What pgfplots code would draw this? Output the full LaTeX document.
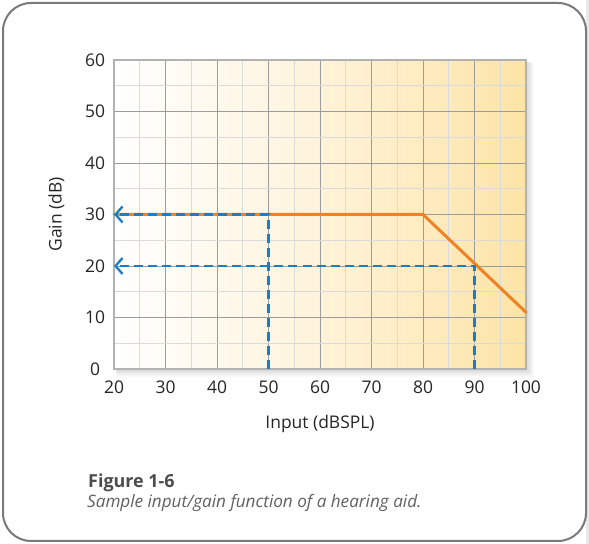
\documentclass[border=0pt]{standalone}
\usepackage{fontspec}
\setmainfont{Open Sans}
\usepackage{pgfplots}
\pgfplotsset{compat=1.18}
\usetikzlibrary{arrows.meta}
\definecolor{gaincol}{HTML}{F08226}
\definecolor{arrowblue}{HTML}{1C7DC6}
\definecolor{gridmaj}{HTML}{9C9C9C}
\definecolor{gridmin}{HTML}{DADADA}
\definecolor{warmmid}{HTML}{FEF3DA}
\definecolor{warmright}{HTML}{FDE4A6}
\definecolor{framecol}{HTML}{7A7A7A}
\definecolor{txt}{HTML}{262626}
\begin{document}
\begin{tikzpicture}[x=1bp,y=1bp]
\path (0,0) rectangle (589,544);
\fill[gray!18] (586,0) rectangle (589,544);
\fill[white, draw=framecol, line width=2bp, rounded corners=28bp] (3,3) rectangle (586,541);
% soft shadow behind plot area
\foreach \i in {1,...,8}{
  \fill[black, opacity=0.018] (114+\i*0.4,175-\i*1.0) rectangle (526+\i*1.0,484-\i*0.4);
}
\begin{axis}[
  at={(114bp,175bp)}, anchor=south west,
  scale only axis, width=412bp, height=309bp,
  xmin=20, xmax=100, ymin=0, ymax=60,
  xtick={20,30,...,100}, ytick={0,10,...,60},
  minor xtick={25,35,...,95}, minor ytick={5,15,...,55},
  grid=both,
  major grid style={draw=gridmaj, line width=0.8bp},
  minor grid style={draw=gridmin, line width=0.9bp},
  axis line style={draw=gray!60, line width=1.2bp},
  axis background/.style={left color=white, right color=warmright, middle color=warmmid},
  tick style={draw=none},
  /pgf/number format/assume math mode=true,
  tick label style={font=\fontsize{17.5}{19}\selectfont, text=txt},
  yticklabel style={anchor=center, xshift=-19bp},
  xticklabel style={anchor=center, yshift=-18bp},
  label style={font=\fontsize{17.5}{19}\selectfont, text=txt},
  xlabel={Input (dBSPL)},
  ylabel={Gain (dB)},
  xlabel style={at={(axis description cs:0.5,-0.178)}, anchor=center},
  ylabel style={at={(axis description cs:-0.14,0.5)}, anchor=center},
  clip=false,
]
\addplot[gaincol, line width=3bp, line cap=round, line join=round] coordinates {(20,30) (80,30) (100,11)};
\addplot[arrowblue, line width=2.3bp, dash pattern=on 9bp off 5bp, -{Straight Barb[length=7bp,width=16bp,line width=2.3bp]}] coordinates {(50,0) (50,30) (20,30)};
\addplot[arrowblue, line width=2.3bp, dash pattern=on 9bp off 5bp, -{Straight Barb[length=7bp,width=16bp,line width=2.3bp]}] coordinates {(90,0) (90,20) (20,20)};
\end{axis}
\node[anchor=base west, font=\bfseries\fontsize{18}{20}\selectfont, text=black!70, inner sep=0pt] at (88,56) {Figure 1-6};
\node[anchor=base west, font=\itshape\fontsize{17.2}{19}\selectfont, text=black!62, inner sep=0pt] at (87,36.5) {Sample input/gain function of a hearing aid.};
\end{tikzpicture}
\end{document}
